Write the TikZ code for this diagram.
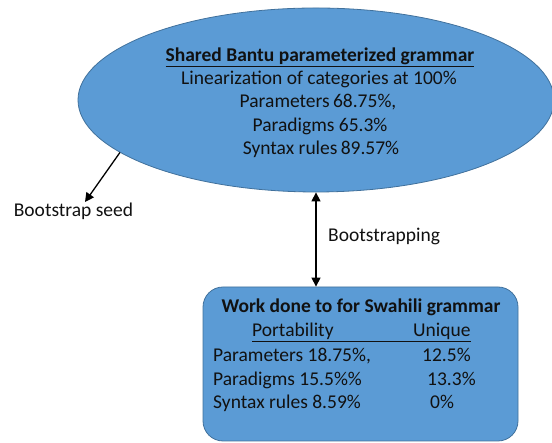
\documentclass[tikz,border=0pt]{standalone}
\usepackage{fontspec}
\setmainfont{Carlito}
\usetikzlibrary{shapes.geometric,arrows.meta}
\definecolor{shapefill}{HTML}{5B9BD5}
\definecolor{shapeedge}{HTML}{41719C}
\definecolor{txt}{HTML}{111111}
\begin{document}
\begin{tikzpicture}[x=1pt,y=1pt,
  shapestyle/.style={fill=shapefill,draw=shapeedge,line width=0.8pt},
  lbl/.style={inner sep=0pt,font=\fontsize{19.5}{23}\selectfont,text=txt},
  conn/.style={draw=black,line width=1.3pt,-{Triangle[length=9pt,width=9pt]}}
]
\useasboundingbox (0,0) rectangle (552,443);
% shared grammar ellipse
\node[shapestyle,ellipse,minimum width=476pt,minimum height=184pt,inner sep=0pt] (ell) at (316,343) {};
\node[lbl,anchor=base,font=\fontsize{19.5}{23}\selectfont\bfseries] (t1) at (320,381) {\underline{Shared Bantu parameterized grammar}};
\node[lbl,anchor=base] (t2) at (319,358) {Linearization of categories at 100\%};
\node[lbl,anchor=base] (t3) at (318,335) {Parameters\,68.75\%,};
\node[lbl,anchor=base] (t4) at (320,311) {Paradigms 65.3\%};
\node[lbl,anchor=base] (t5) at (321,288) {Syntax rules\,89.57\%};
% Swahili box
\node[shapestyle,rectangle,rounded corners=20pt,minimum width=315pt,minimum height=154pt,inner sep=0pt] (box) at (360.5,79) {};
\node[lbl,anchor=base,font=\fontsize{19.5}{23}\selectfont\bfseries] (b1) at (361,130) {Work done to for Swahili grammar};
\node[lbl,anchor=base west] (port) at (252,106) {Portability};
\node[lbl,anchor=base west] (uniq) at (413,106) {Unique};
\draw[txt,line width=0.8pt] ([yshift=-4pt]port.base west) -- ([yshift=-4pt]uniq.base east);
\node[lbl,anchor=base west] (r1a) at (213,81) {Parameters 18.75\%,};
\node[lbl,anchor=base west] (r1b) at (422,81) {12.5\%};
\node[lbl,anchor=base west] (r2a) at (213,57) {Paradigms 15.5\%\%};
\node[lbl,anchor=base west] (r2b) at (427,57) {13.3\%};
\node[lbl,anchor=base west] (r3a) at (213,34) {Syntax rules 8.59\%};
\node[lbl,anchor=base west] (r3b) at (430,34) {0\%};
% labels outside
\node[lbl,anchor=base] (seed) at (73.5,226) {Bootstrap seed};
\node[lbl,anchor=base west] (bs) at (328,201) {Bootstrapping};
% connectors
\coordinate (seedtip) at (85,241);
\draw[conn] (ell.195) -- (seedtip);
\draw[conn,{Triangle[length=9pt,width=9pt]}-{Triangle[length=9pt,width=9pt]}] (ell.south) -- (ell.south |- box.north);
\end{tikzpicture}
\end{document}
